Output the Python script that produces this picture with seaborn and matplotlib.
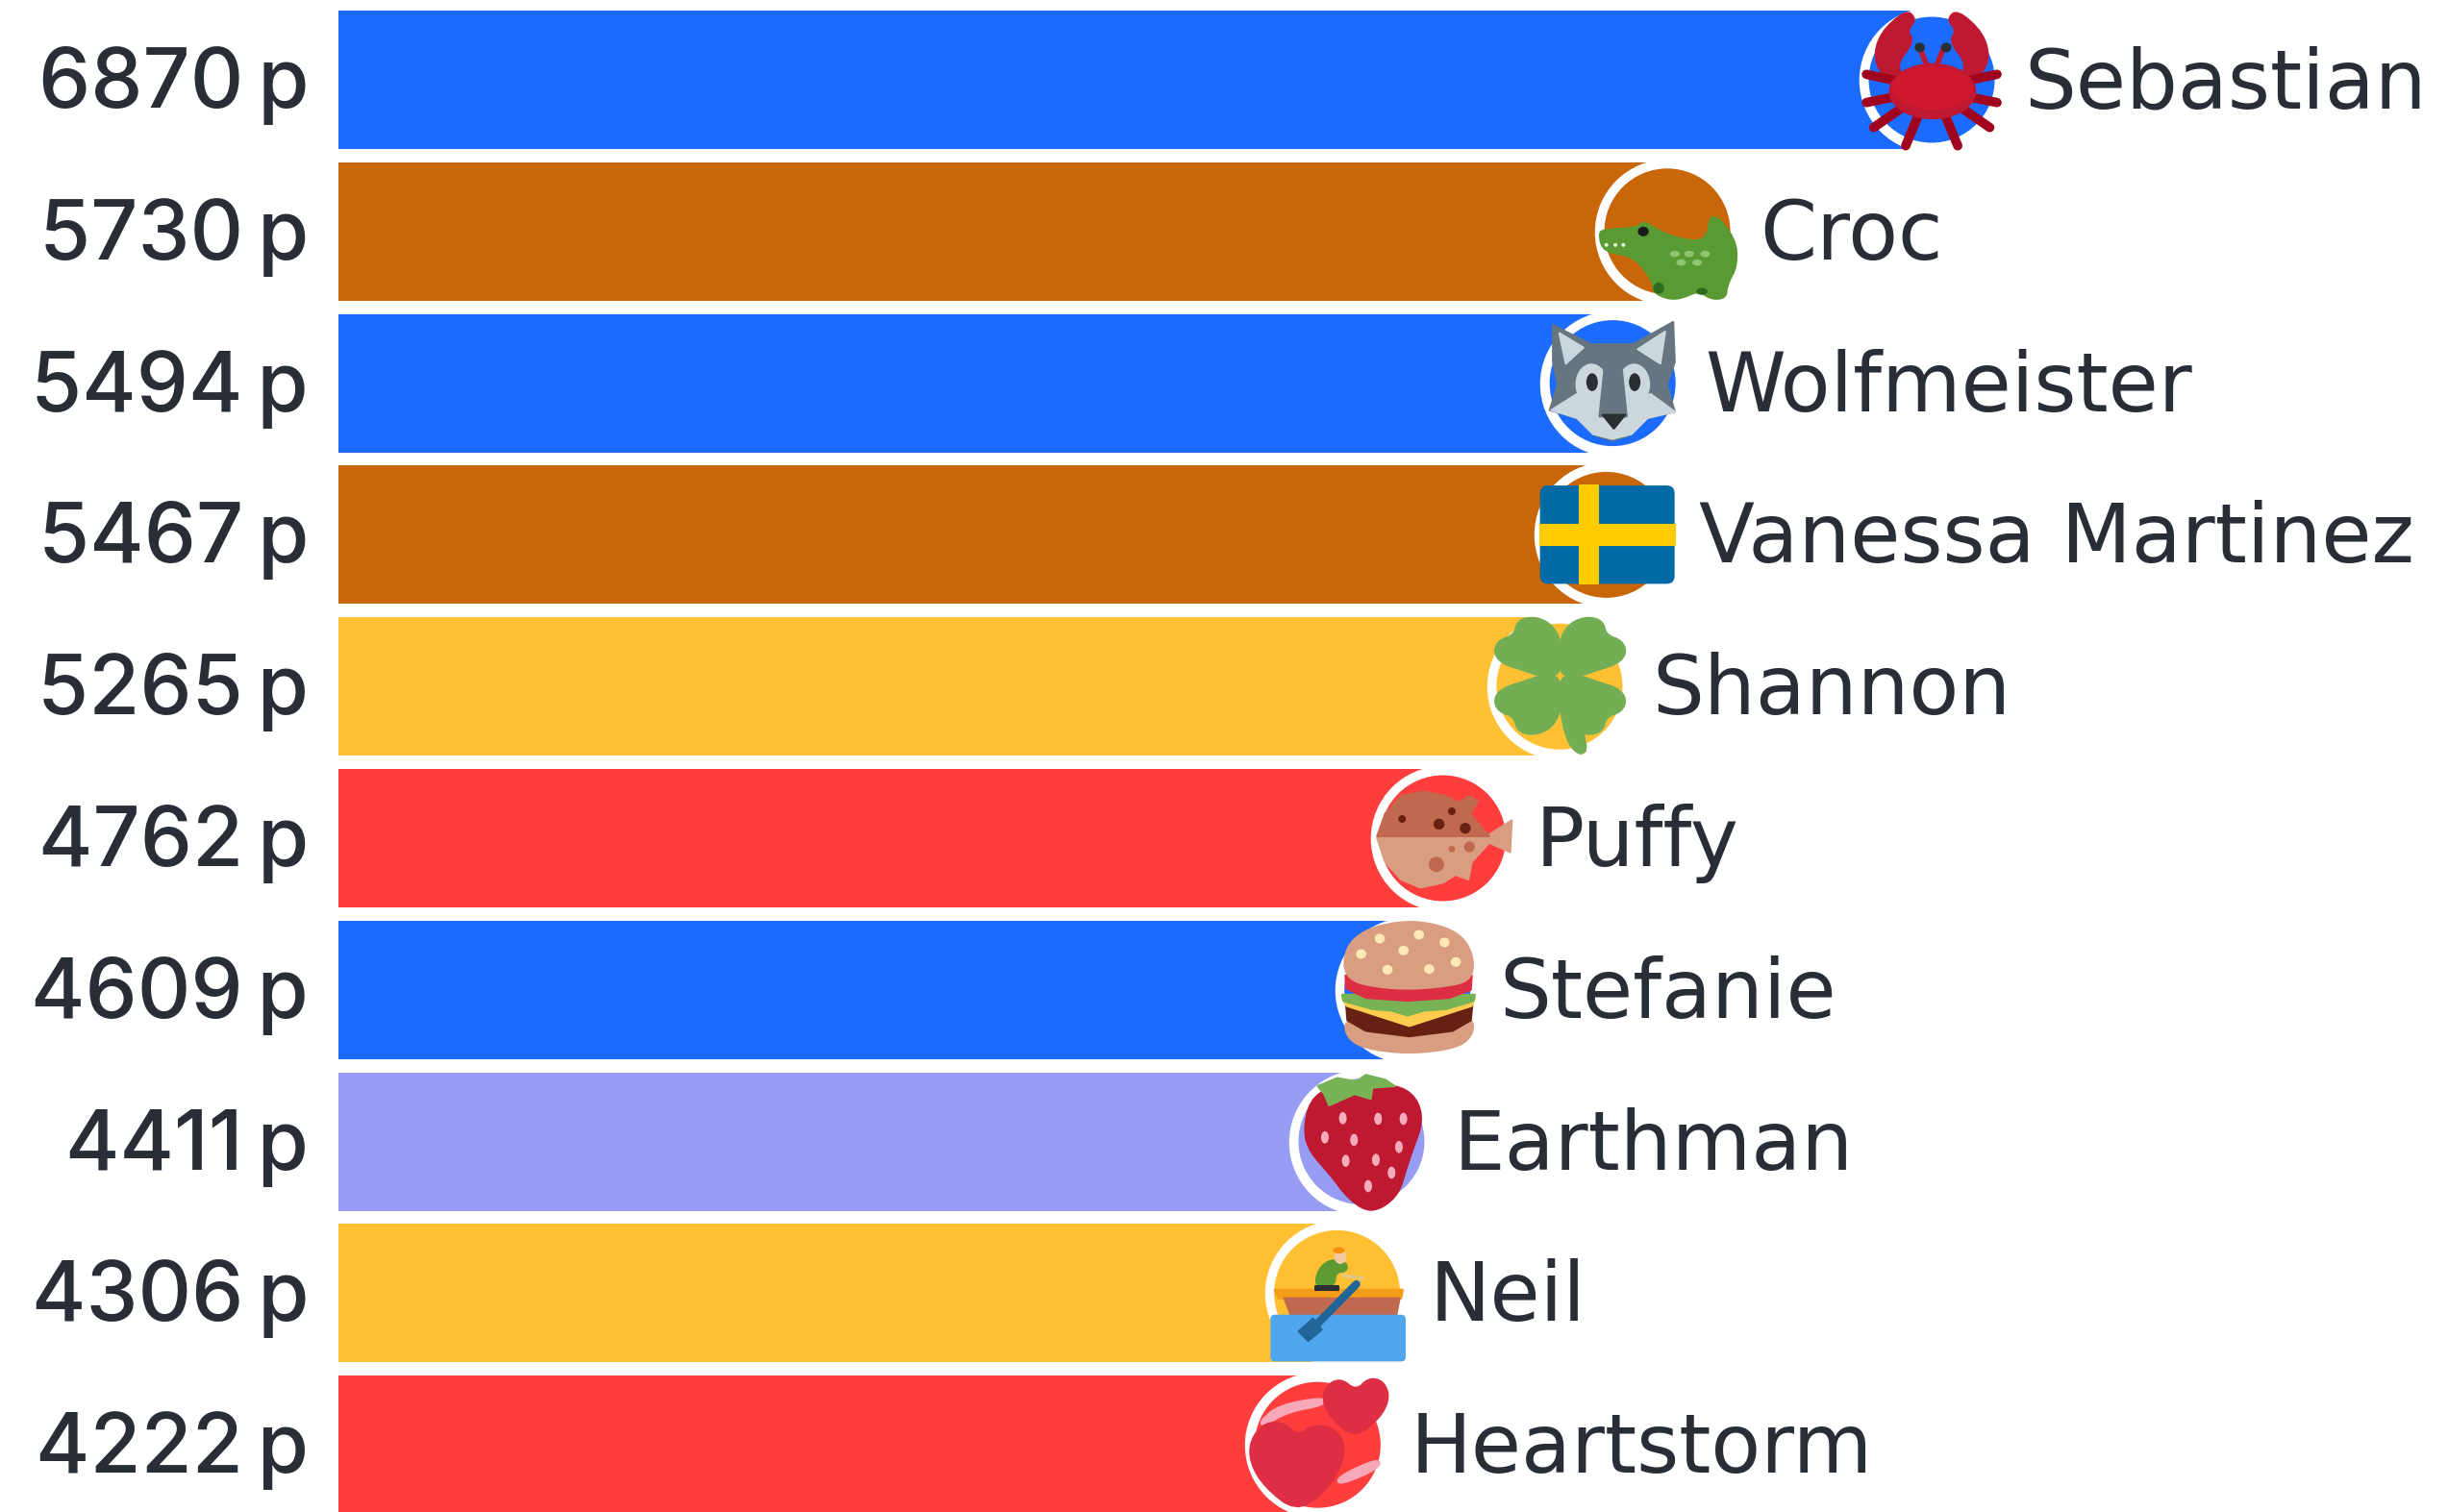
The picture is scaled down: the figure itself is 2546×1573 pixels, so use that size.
import numpy as np
import pandas as pd
import matplotlib
matplotlib.use("Agg")
import matplotlib.pyplot as plt
import seaborn as sns
from matplotlib.patches import Polygon, Ellipse, FancyBboxPatch
from matplotlib.transforms import Affine2D

# Data #
names = ["Sebastian", "Croc", "Wolfmeister", "Vanessa Martinez", "Shannon",
         "Puffy", "Stefanie", "Earthman", "Neil", "Heartstorm"]
points = [6870, 5730, 5494, 5467, 5265, 4762, 4609, 4411, 4306, 4222]
points_unit = "p"

# Styles #
BLUE = "#1C6BFF"
ORANGE = "#C9660A"
YELLOW = "#FFC133"
RED = "#FF3D3D"
LILAC = "#979CF5"
bar_colors = [BLUE, ORANGE, BLUE, ORANGE, YELLOW, RED, BLUE, LILAC, YELLOW, RED]
TEXT = "#282D36"
PX_W, PX_H = 2546, 1573
ZERO_PX = 352        # where 0 sits on the x axis
PX_PER_POINT = 0.2412
ROW_TOP = 83         # centre of first row
ROW_STEP = 157.8

sns.set_theme(style="white")
plt.rcParams["font.family"] = ["Inter", "DejaVu Sans"]

df = pd.DataFrame({"name": names, "points": points})
palette = dict(zip(names, bar_colors))

fig = plt.figure(figsize=(PX_W / 100, PX_H / 100), dpi=100, facecolor="white")
ax = fig.add_axes([0, 0, 1, 1])

sns.barplot(data=df, x="points", y="name", hue="name", palette=palette, saturation=1,
            width=144 / ROW_STEP, dodge=False, legend=False, linewidth=0, ax=ax, zorder=1)
# white ring then coloured disc at the end of every bar
sns.scatterplot(data=df, x="points", y="name", color="white", s=11900, linewidth=0,
                legend=False, ax=ax, zorder=2)
sns.scatterplot(data=df, x="points", y="name", hue="name", palette=palette, s=8896, linewidth=0,
                legend=False, ax=ax, zorder=3)

ax.set_xlim(-ZERO_PX / PX_PER_POINT, (PX_W - ZERO_PX) / PX_PER_POINT)
ax.set_ylim((PX_H - ROW_TOP) / ROW_STEP, -ROW_TOP / ROW_STEP)
ax.set_axis_off()

# Labels #
for i, (name, val) in enumerate(zip(names, points)):
    ax.annotate(f"{val}\u2009{points_unit}", xy=(0, i), xytext=(-31, -29), textcoords="offset pixels",
                ha="right", va="baseline", fontsize=62, color=TEXT, fontweight="medium", zorder=6)
    ax.annotate(name, xy=(val, i), xytext=(96, -29), textcoords="offset pixels",
                ha="left", va="baseline", fontsize=61, color=TEXT, family="DejaVu Sans", zorder=6)


# Icon helpers: shapes are given in crop coordinates of the picture #
def icon_transform(i, zx, zy, sx=3.0, sy=3.0):
    cx, cy = ax.transData.transform((points[i], i))
    return Affine2D().translate(-zx, -zy).scale(1 / sx, -1 / sy).translate(cx, cy)


def chaikin(pts, rounds=2):
    pts = np.asarray(pts, dtype=float)
    for _ in range(rounds):
        nxt = np.roll(pts, -1, axis=0)
        pts = np.column_stack([0.75 * pts + 0.25 * nxt, 0.25 * pts + 0.75 * nxt]).reshape(-1, 2)
    return pts


def poly(tr, pts, color, z=5, smooth=True):
    if smooth:
        pts = chaikin(pts)
    ax.add_patch(Polygon(pts, closed=True, facecolor=color, edgecolor=color, lw=1.5,
                         joinstyle="round", transform=tr, zorder=z))


def oval(tr, x, y, w, h, color, z=5):
    ax.add_patch(Ellipse((x, y), w, h, facecolor=color, edgecolor="none", transform=tr, zorder=z))


def flip(pts, axis):
    return [(2 * axis - x, y) for x, y in pts]


def stroke(tr, xs, ys, color, lw, z=5):
    ax.plot(xs, ys, color=color, lw=lw, solid_capstyle="round", transform=tr, zorder=z)


# crab
tr = icon_transform(0, 358, 249, 2.253, 3)
CRAB = "#BE1931"
for side in (0, 1):
    f = (lambda p: p) if side == 0 else (lambda p: flip(p, 358))
    poly(tr, f([(222, 190), (236, 105), (298, 30), (322, 60), (300, 95), (316, 130), (275, 200), (295, 250), (255, 250)]), CRAB)
    for a, b in [((285, 255), (205, 232)), ((280, 300), (205, 320)), ((290, 335), (222, 398)), ((325, 365), (297, 455))]:
        p = f([a, b])
        stroke(tr, [p[0][0], p[1][0]], [p[0][1], p[1][1]], "#A0041E", 7)
    p = f([(345, 200), (330, 150)])
    stroke(tr, [p[0][0], p[1][0]], [p[0][1], p[1][1]], CRAB, 4)
oval(tr, 360, 285, 205, 175, CRAB)
oval(tr, 360, 275, 190, 135, "#D0182F")
oval(tr, 330, 148, 24, 30, "#292F33")
oval(tr, 392, 148, 24, 30, "#292F33")

# crocodile
tr = icon_transform(1, 282, 243)
poly(tr, [(70, 250), (80, 238), (185, 232), (210, 212), (240, 232), (300, 262), (405, 278), (418, 175), (495, 265),
          (500, 350), (468, 410), (465, 450), (420, 455), (380, 428), (330, 450), (290, 455), (240, 435), (238, 400),
          (180, 322), (100, 308), (76, 288)], "#5A9A33")
oval(tr, 255, 420, 35, 35, "#2E6B1D", 6)
oval(tr, 390, 430, 35, 22, "#2E6B1D", 6)
oval(tr, 207, 243, 34, 30, "#1A1A1A", 6)
for x in (92, 120, 145):
    oval(tr, x, 285, 12, 12, "#E8F3DC", 6)
for x, y in [(305, 313), (350, 313), (400, 313), (325, 340), (375, 340)]:
    oval(tr, x, y, 30, 20, "#8FC470", 6)

# wolf
tr = icon_transform(2, 531, 236)
GREY, PALE = "#66757F", "#CCD6DD"
poly(tr, [(345, 55), (465, 115), (595, 115), (720, 45), (725, 170), (700, 240), (725, 325), (640, 345), (580, 400),
          (530, 415), (480, 400), (420, 345), (335, 320), (360, 240), (345, 170)], GREY, smooth=False)
poly(tr, [(365, 80), (440, 125), (385, 175)], PALE, 6, smooth=False)
poly(tr, [(695, 75), (610, 130), (680, 175)], PALE, 6, smooth=False)
oval(tr, 465, 240, 100, 130, PALE, 6)
oval(tr, 598, 240, 100, 130, PALE, 6)
poly(tr, [(340, 320), (420, 270), (490, 300), (570, 300), (650, 270), (725, 325), (640, 345), (590, 395), (530, 410),
          (470, 395), (420, 345)], PALE, 6, smooth=False)
poly(tr, [(505, 195), (560, 195), (575, 340), (490, 340)], GREY, 7, smooth=False)
poly(tr, [(500, 335), (570, 335), (535, 378)], "#292F33", 8, smooth=False)
oval(tr, 467, 233, 36, 56, "#292F33", 8)
oval(tr, 600, 233, 36, 56, "#292F33", 8)

# flag
tr = icon_transform(3, 510, 709)
ax.add_patch(FancyBboxPatch((303, 555), 420, 307, boxstyle="round,pad=0,rounding_size=25", facecolor="#006AA7",
                            edgecolor="none", transform=tr, zorder=5))
poly(tr, [(428, 555), (485, 555), (485, 862), (428, 862)], "#FECC00", 6, smooth=False)
poly(tr, [(303, 678), (723, 678), (723, 740), (303, 740)], "#FECC00", 6, smooth=False)

# clover
tr = icon_transform(4, 363, 1183)
CLOVER = "#73AE55"
leaf = [(368, 1150), (368, 1040), (335, 985), (280, 965), (232, 978), (222, 1022), (172, 1040), (158, 1078),
        (185, 1112), (260, 1135), (300, 1150)]
poly(tr, leaf, CLOVER)
poly(tr, flip(leaf, 365), CLOVER)
low_leaf = [(x, 2300 - y) for x, y in leaf]
poly(tr, low_leaf, CLOVER)
poly(tr, flip(low_leaf, 365), CLOVER)
poly(tr, [(355, 1170), (385, 1170), (455, 1375), (425, 1400), (380, 1345)], CLOVER)

# blowfish
tr = icon_transform(5, 240, 246)
poly(tr, [(35, 245), (60, 320), (110, 375), (170, 400), (240, 385), (280, 360), (320, 375), (330, 320), (385, 260),
          (450, 290), (455, 190), (385, 235)], "#D99E82", smooth=False)
poly(tr, [(35, 240), (60, 170), (110, 115), (180, 100), (250, 115), (290, 135), (320, 115), (350, 130), (325, 170),
          (385, 240)], "#C1694F", 6, smooth=False)
for x, y, d in [(113, 186, 24), (228, 202, 34), (268, 162, 24), (310, 215, 34)]:
    oval(tr, x, y, d, d, "#662113", 7)
for x, y, d in [(220, 328, 48), (323, 273, 34), (268, 280, 20)]:
    oval(tr, x, y, d, d, "#C1694F", 7)

# burger
tr = icon_transform(6, 249, 240)
BUN = "#D99E82"
poly(tr, [(55, 330), (120, 370), (255, 385), (390, 370), (455, 325), (452, 385), (400, 422), (255, 440), (110, 422), (58, 385)], BUN)
poly(tr, [(58, 285), (452, 285), (447, 335), (390, 368), (255, 385), (120, 368), (62, 335)], "#662113", 6, smooth=False)
poly(tr, [(45, 265), (460, 265), (450, 290), (255, 353), (60, 290)], "#FFCC4D", 7, smooth=False)
poly(tr, [(45, 255), (460, 255), (455, 275), (370, 300), (300, 305), (250, 320), (200, 305), (140, 300), (50, 275)], "#77B255", 8, smooth=False)
poly(tr, [(56, 195), (450, 195), (447, 240), (380, 265), (250, 274), (120, 265), (58, 235)], "#DD2E44", 9, smooth=False)
poly(tr, [(50, 150), (70, 90), (130, 48), (220, 28), (300, 28), (390, 52), (440, 98), (457, 160), (445, 205), (400, 225), (250, 240), (110, 225), (60, 198)], BUN, 10)
for x, y in [(105, 128), (163, 80), (285, 68), (365, 92), (400, 153), (317, 175), (187, 177), (237, 117)]:
    oval(tr, x, y, 32, 30, "#FFE8B6", 11)

# strawberry
tr = icon_transform(7, 496, 263)
poly(tr, [(316, 230), (335, 135), (400, 90), (480, 95), (605, 85), (668, 125), (688, 200), (655, 290), (635, 350),
          (612, 425), (562, 470), (510, 480), (450, 435), (398, 365), (335, 295)], "#BE1931")
poly(tr, [(360, 90), (420, 65), (480, 75), (510, 55), (570, 70), (600, 90), (530, 95), (525, 130), (475, 115),
          (395, 150), (380, 115)], "#77B255", 6, smooth=False)
for x, y in [(438, 190), (548, 192), (627, 192), (382, 250), (473, 258), (613, 280), (447, 323), (541, 320), (590, 360), (517, 402)]:
    oval(tr, x, y, 24, 38, "#F4ABBA", 6)

# rowboat
tr = icon_transform(8, 420, 736)
ax.add_patch(FancyBboxPatch((212, 803), 422, 146, boxstyle="round,pad=0,rounding_size=14", facecolor="#4FA6EC",
                            edgecolor="none", transform=tr, zorder=6))
poly(tr, [(225, 725), (625, 725), (620, 752), (235, 752)], "#F59D18", smooth=False)
poly(tr, [(255, 752), (615, 752), (605, 803), (275, 803)], "#C1694F", smooth=False)
poly(tr, [(350, 715), (362, 660), (400, 630), (450, 640), (450, 668), (415, 670), (412, 715)], "#5C9B32", 6)
poly(tr, [(353, 713), (425, 713), (425, 725), (353, 725)], "#292F33", 6, smooth=False)
oval(tr, 430, 622, 38, 45, "#F5C9A0", 6)
oval(tr, 425, 602, 36, 20, "#F4900C", 6)
stroke(tr, [440, 500], [680, 690], "#E8C77A", 3, 6)
stroke(tr, [480, 345], [708, 845], "#226699", 6, 7)
poly(tr, [(300, 855), (345, 815), (372, 850), (330, 885)], "#226699", 7, smooth=False)

# hearts
tr = icon_transform(9, 360, 1209)
poly(tr, [(180, 1135), (240, 1085), (380, 1060), (380, 1085), (270, 1105), (190, 1150)], "#F7A8B8")
poly(tr, [(420, 1310), (550, 1250), (555, 1280), (430, 1335)], "#F7A8B8")
poly(tr, [(300, 1180), (255, 1140), (195, 1140), (150, 1195), (150, 1265), (195, 1340), (290, 1415), (375, 1365),
          (435, 1275), (445, 1200), (400, 1150), (340, 1150)], "#DD2E44", 6)
poly(tr, [(480, 1040), (430, 1000), (380, 1030), (380, 1100), (470, 1190), (555, 1125), (585, 1060), (565, 1010),
          (520, 1000)], "#DD2E44", 6)

fig.savefig("out.png", dpi=100, facecolor="white")
